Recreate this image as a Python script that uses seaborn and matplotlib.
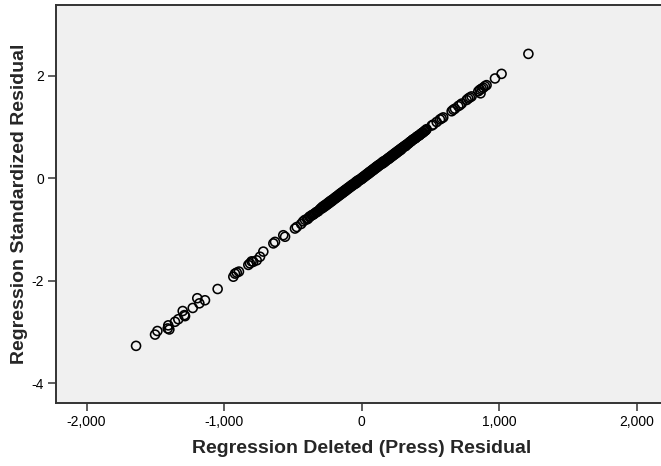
import matplotlib
matplotlib.use("Agg")
import matplotlib.pyplot as plt
from matplotlib.ticker import FuncFormatter
import seaborn as sns
import pandas as pd

# Regression Deleted (Press) Residual
press_resid = [
    -1640, -1502, -1485, -1410, -1406, -1398, -1357, -1333, -1301, -1289, -1284,
    -1228, -1195, -1180, -1139, -1047, -933, -921, -908, -892, -824, -812, -800,
    -788, -763, -739, -715, -642, -630, -570, -557, -485, -472, -440, -425, -412,
    -396, -388, -380, -372, -363, -355, -348, -339, -330, -322, -315, -305,
    -298, -291, -287, -280, -276, -270, -266, -259, -254, -250, -245, -239, -236,
    -230, -226, -219, -215, -210, -204, -201, -195, -190, -186, -180, -175, -171,
    -166, -160, -157, -151, -147, -140, -136, -131, -127, -120, -117, -112, -106,
    -101, -97, -92, -86, -82, -77, -71, -67, -62, -58, -51, -47, -43, -37, -33,
    -27, -22, -18, -12, -8, -3, 2, 6, 11, 16, 21, 25, 31, 35, 40, 46, 50, 55, 59,
    65, 70, 74, 79, 85, 89, 94, 99, 104, 108, 114, 118, 123, 129, 133, 137, 143,
    148, 152, 158, 162, 167, 172, 177, 183, 187, 192, 196, 202, 207, 211, 216,
    221, 226, 231, 236, 241, 245, 251, 256, 260, 265, 270, 276, 281, 285, 290, 296,
    302, 308, 315, 320, 327, 333, 340, 346, 351, 357, 362, 369, 375, 381, 388,
    394, 400, 405, 413, 418, 424, 430, 437, 442, 448, 455, 461, 466, 472,
    509, 520, 545, 569, 581, 593, 654, 666, 678, 702, 714, 727, 763, 775, 787,
    799, 848, 860, 864, 872, 884, 896, 908, 969, 1017, 1212,
]

# Regression Standardized Residual
std_resid = [
    -3.27, -3.05, -2.98, -2.93, -2.87, -2.95, -2.80, -2.75, -2.59, -2.67, -2.69,
    -2.53, -2.34, -2.44, -2.38, -2.16, -1.92, -1.86, -1.84, -1.82, -1.69, -1.66,
    -1.62, -1.63, -1.60, -1.53, -1.43, -1.27, -1.24, -1.11, -1.14, -0.98, -0.95,
    -0.89, -0.84, -0.81, -0.80, -0.78, -0.75, -0.74, -0.72, -0.71, -0.70, -0.68,
    -0.66, -0.65, -0.64, -0.61,
    -0.59, -0.59, -0.56, -0.57, -0.54, -0.55, -0.52, -0.53, -0.50, -0.51, -0.48,
    -0.49, -0.46, -0.47, -0.44, -0.45, -0.42, -0.43, -0.40, -0.41, -0.38, -0.39,
    -0.36, -0.37, -0.34, -0.35, -0.32, -0.33, -0.30, -0.31, -0.28, -0.29, -0.26,
    -0.27, -0.24, -0.25, -0.22, -0.23, -0.20, -0.21, -0.18, -0.19, -0.16, -0.17,
    -0.14, -0.15, -0.12, -0.13, -0.11, -0.11, -0.08, -0.10, -0.06, -0.08, -0.04,
    -0.05, -0.03, -0.03, -0.01, -0.02, 0.01, 0.00, 0.03, 0.02, 0.05, 0.04, 0.07,
    0.06, 0.09, 0.08, 0.11, 0.10, 0.13, 0.12, 0.15, 0.14, 0.17, 0.16, 0.19, 0.18,
    0.21, 0.20, 0.23, 0.22, 0.25, 0.24, 0.27, 0.26, 0.28, 0.28, 0.31, 0.29, 0.33,
    0.31, 0.34, 0.33, 0.36, 0.36, 0.38, 0.37, 0.40, 0.39, 0.42, 0.41, 0.44, 0.43,
    0.46, 0.45, 0.48, 0.47, 0.50, 0.49, 0.52, 0.51, 0.54, 0.53, 0.56, 0.55, 0.58,
    0.57, 0.60,
    0.61, 0.62, 0.64, 0.63, 0.66, 0.67, 0.68, 0.70, 0.71, 0.72, 0.73, 0.75, 0.76,
    0.77, 0.78, 0.79, 0.81, 0.82, 0.83, 0.84, 0.85, 0.87, 0.88, 0.89, 0.90, 0.92,
    0.93, 0.94, 0.96,
    1.03, 1.05, 1.10, 1.15, 1.17, 1.19, 1.31, 1.34, 1.36, 1.41, 1.43, 1.46, 1.53,
    1.56, 1.58, 1.60, 1.70, 1.73, 1.66, 1.75, 1.77, 1.80, 1.82, 1.95, 2.04, 2.43,
]

x_ticks = [-2000, -1000, 0, 1000, 2000]
y_ticks = [-4, -2, 0, 2]
x_label = "Regression Deleted (Press) Residual"
y_label = "Regression Standardized Residual"

df = pd.DataFrame({"press": press_resid, "std": std_resid})

sns.set_theme(style="ticks")
plt.rcParams["font.family"] = ["Liberation Sans", "DejaVu Sans"]

fig = plt.figure(figsize=(6.61, 4.66), dpi=100)
ax = fig.add_axes([0.0843, 0.1358, 1.010 - 0.0843, 0.9899 - 0.1358])
ax.set_facecolor("#F0F0F0")

sns.scatterplot(data=df, x="press", y="std", ax=ax, marker="o", s=42,
                facecolors="none", edgecolor="black", linewidth=1.15, legend=False)

ax.set_xlim(-2224, 2224)
ax.set_ylim(-4.38, 3.39)
ax.set_xticks(x_ticks)
ax.set_yticks(y_ticks)
ax.xaxis.set_major_formatter(FuncFormatter(lambda v, p: f"{v:,.0f}"))
ax.yaxis.set_major_formatter(FuncFormatter(lambda v, p: f"{v:.0f}"))

for sp in ax.spines.values():
    sp.set_color("#333333")
    sp.set_linewidth(1.4)
ax.spines["right"].set_visible(False)

ax.tick_params(axis="both", direction="out", length=6, width=1.1, color="#333333",
               labelsize=10, pad=2.5, labelcolor="black")
ax.set_xlabel(x_label, fontsize=14, fontweight="bold", labelpad=8.5)
ax.set_ylabel(y_label, fontsize=14, fontweight="bold", labelpad=2.5)

fig.savefig("out.png", dpi=100)
